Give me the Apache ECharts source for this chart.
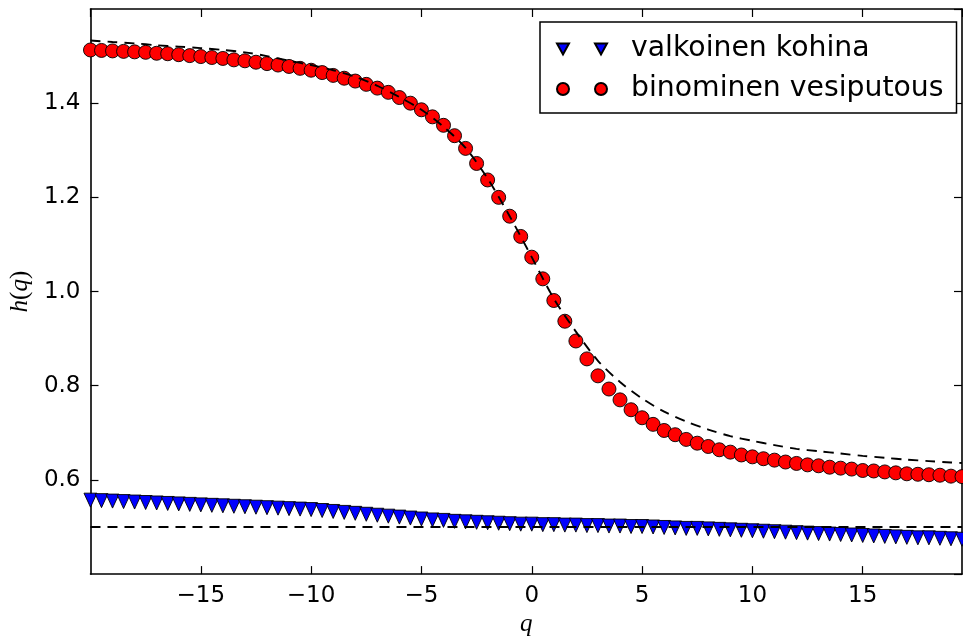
<!DOCTYPE html>
<html><head><meta charset="utf-8">
<script src="https://cdn.jsdelivr.net/npm/echarts@6/dist/echarts.min.js"></script>
<style>html,body{margin:0;padding:0;background:#fff}#c{width:963px;height:642px}</style>
</head><body><div id="c"></div>
<script>
const q = [-20,-19.5,-19,-18.5,-18,-17.5,-17,-16.5,-16,-15.5,-15,-14.5,-14,-13.5,-13,-12.5,-12,-11.5,-11,-10.5,
  -10,-9.5,-9,-8.5,-8,-7.5,-7,-6.5,-6,-5.5,-5,-4.5,-4,-3.5,-3,-2.5,-2,-1.5,-1,-0.5,
  0,0.5,1,1.5,2,2.5,3,3.5,4,4.5,5,5.5,6,6.5,7,7.5,8,8.5,9,9.5,
  10,10.5,11,11.5,12,12.5,13,13.5,14,14.5,15,15.5,16,16.5,17,17.5,18,18.5,19,19.5];
const binomial = [1.513,1.512,1.511,1.510,1.509,1.508,1.506,1.505,1.503,1.501,
  1.499,1.497,1.495,1.492,1.490,1.487,1.484,1.481,1.478,1.474,
  1.470,1.465,1.459,1.453,1.447,1.440,1.432,1.423,1.412,1.400,
  1.386,1.371,1.353,1.331,1.304,1.272,1.237,1.200,1.160,1.117,
  1.073,1.027,0.981,0.937,0.895,0.857,0.821,0.793,0.770,0.749,
  0.732,0.718,0.705,0.696,0.686,0.678,0.671,0.664,0.659,0.653,
  0.649,0.645,0.642,0.638,0.635,0.632,0.630,0.627,0.625,0.623,
  0.620,0.619,0.617,0.615,0.613,0.612,0.611,0.610,0.608,0.607];
const whiteNoise = [0.557,0.556,0.555,0.554,0.553,0.552,0.551,0.550,0.549,0.548,
  0.547,0.546,0.545,0.544,0.543,0.542,0.541,0.540,0.539,0.538,
  0.537,0.535,0.533,0.531,0.529,0.527,0.525,0.523,0.521,0.519,
  0.517,0.515,0.514,0.512,0.511,0.510,0.509,0.508,0.507,0.506,
  0.506,0.505,0.505,0.504,0.504,0.503,0.503,0.502,0.502,0.501,
  0.501,0.500,0.499,0.498,0.497,0.497,0.496,0.495,0.494,0.493,
  0.492,0.491,0.490,0.489,0.488,0.487,0.486,0.485,0.484,0.483,
  0.482,0.481,0.480,0.479,0.478,0.477,0.477,0.476,0.475,0.474];
const theoryQ = [-20,-19,-18,-17,-16,-15,-14,-13,-12,-11,-10,-9,-8,-7,-6,-5,-4,-3,-2,-1,
  0,1,2,3,4,5,6,7,8,9,10,11,12,13,14,15,16,17,18,19,19.5];
const theoryBinomial = [1.533,1.530,1.527,1.523,1.520,1.517,1.513,1.508,1.500,1.490,
  1.481,1.470,1.456,1.437,1.413,1.386,1.350,1.305,1.240,1.160,
  1.073,0.985,0.915,0.853,0.808,0.773,0.745,0.724,0.707,0.693,
  0.683,0.674,0.666,0.661,0.656,0.651,0.647,0.643,0.640,0.637,0.636];
const theoryWhiteQ = [-20, 19.5];
const theoryWhite = [0.5, 0.5];
const seriesNames = ['valkoinen kohina', 'binominen vesiputous'];

const zip = (xs, ys) => xs.map((x, i) => [x, ys[i]]);
const minus = v => (v < 0 ? '\u2212' + String(Math.abs(v)) : String(v));
const spine = {show: true, onZero: false, lineStyle: {color: '#000', width: 1.6}};
const tick = {show: true, inside: true, length: 8, lineStyle: {color: '#000', width: 1.2}};
const tickFont = {fontFamily: 'DejaVu Sans', fontSize: 23, color: '#000'};
const mathStyle = {fontFamily: 'Liberation Serif', fontStyle: 'italic', fontSize: 25, color: '#000'};
const dash = {color: '#000', width: 1.9, type: [10, 7]};

const chart = echarts.init(document.getElementById('c'));
chart.setOption({
  animation: false,
  backgroundColor: '#fff',
  grid: {left: 89, right: 1, top: 9, bottom: 65},
  legend: {
    data: [
      {name: seriesNames[0], icon: 'path://M0,0L12,0L6,11ZM38,0L50,0L44,11Z'},
      {name: seriesNames[1], icon: 'path://M0,6A6,6,0,1,1,12,6A6,6,0,1,1,0,6ZM38,6A6,6,0,1,1,50,6A6,6,0,1,1,38,6Z'}
    ],
    orient: 'vertical', left: 540, top: 22,
    padding: [11, 13, 8, 16], itemGap: 8, itemWidth: 50, itemHeight: 12,
    borderColor: '#000', borderWidth: 1.5, backgroundColor: '#fff',
    textStyle: {fontFamily: 'DejaVu Sans', fontSize: 28.3, lineHeight: 32, color: '#000', padding: [0, 0, 0, 19]}
  },
  xAxis: [
    {type: 'value', min: -20, max: 19.5, interval: 5, position: 'bottom',
     axisLine: spine, axisTick: tick, splitLine: {show: false},
     axisLabel: Object.assign({showMinLabel: false, showMaxLabel: false, margin: 10, formatter: minus}, tickFont),
     name: 'q', nameLocation: 'middle', nameGap: 36, nameTextStyle: mathStyle},
    {type: 'value', min: -20, max: 19.5, interval: 5, position: 'top',
     axisLine: spine, axisTick: tick, splitLine: {show: false}, axisLabel: {show: false}}
  ],
  yAxis: [
    {type: 'value', min: 0.4, max: 1.6, interval: 0.2, position: 'left',
     axisLine: spine, axisTick: tick, splitLine: {show: false},
     axisLabel: Object.assign({showMinLabel: false, showMaxLabel: false, margin: 10, formatter: v => v.toFixed(1)}, tickFont),
     name: '{i|h}{n|(}{i|q}{n|)}', nameLocation: 'middle', nameGap: 56,
     nameTextStyle: {rich: {i: mathStyle, n: {fontFamily: 'Liberation Serif', fontSize: 25, color: '#000'}}}},
    {type: 'value', min: 0.4, max: 1.6, interval: 0.2, position: 'right',
     axisLine: spine, axisTick: tick, splitLine: {show: false}, axisLabel: {show: false}}
  ],
  series: [
    {name: seriesNames[0], type: 'scatter', xAxisIndex: 0, yAxisIndex: 0, data: zip(q, whiteNoise),
     symbol: 'triangle', symbolRotate: 180, symbolSize: [13, 14], z: 2,
     itemStyle: {color: '#0000ff', borderColor: '#000', borderWidth: 0.9, opacity: 1}},
    {name: seriesNames[1], type: 'scatter', xAxisIndex: 0, yAxisIndex: 0, data: zip(q, binomial),
     symbol: 'circle', symbolSize: 14, z: 2,
     itemStyle: {color: '#ff0000', borderColor: '#000', borderWidth: 0.9, opacity: 1}},
    {type: 'line', xAxisIndex: 0, yAxisIndex: 0, data: zip(theoryQ, theoryBinomial), showSymbol: false,
     smooth: 0.3, z: 3, lineStyle: dash},
    {type: 'line', xAxisIndex: 0, yAxisIndex: 0, data: zip(theoryWhiteQ, theoryWhite), showSymbol: false,
     z: 3, lineStyle: dash}
  ]
});
</script></body></html>
